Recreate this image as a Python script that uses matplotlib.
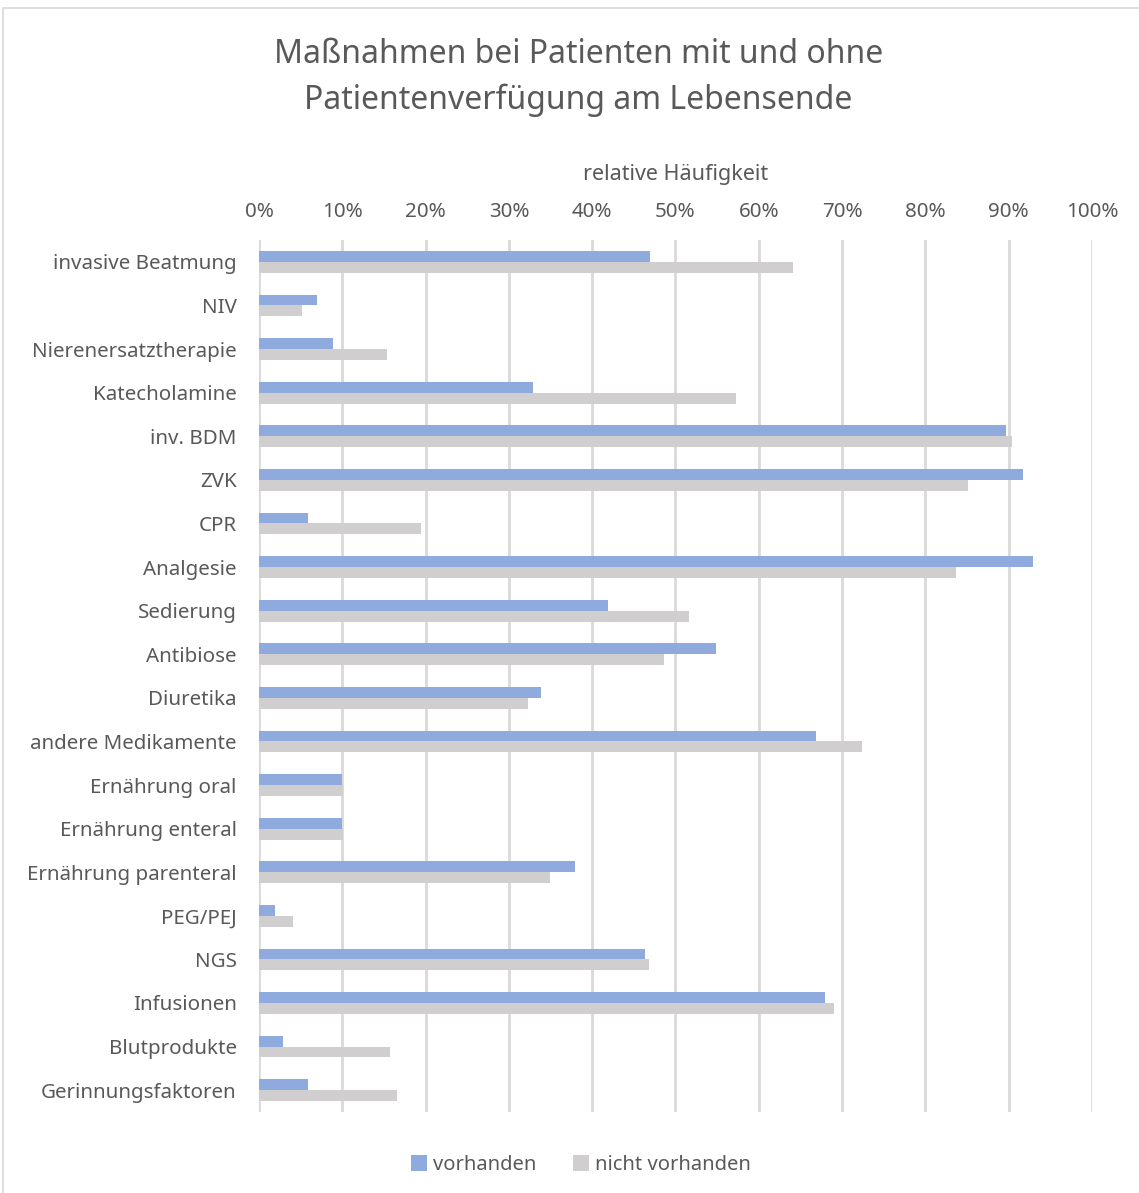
import numpy as np
import matplotlib.pyplot as plt
from matplotlib.patches import Rectangle

plt.rcParams['font.family'] = ['Noto Sans', 'DejaVu Sans']

kategorien = ['invasive Beatmung', 'NIV', 'Nierenersatztherapie', 'Katecholamine',
              'inv. BDM', 'ZVK', 'CPR', 'Analgesie', 'Sedierung', 'Antibiose',
              'Diuretika', 'andere Medikamente', 'Ernährung oral', 'Ernährung enteral',
              'Ernährung parenteral', 'PEG/PEJ', 'NGS', 'Infusionen', 'Blutprodukte',
              'Gerinnungsfaktoren']
vorhanden = [46.9, 7.0, 8.9, 32.9, 89.7, 91.7, 5.9, 92.9, 41.9, 54.9,
             33.9, 66.9, 10.0, 10.0, 37.9, 1.9, 46.3, 67.9, 2.9, 5.9]
nicht_vorhanden = [64.1, 5.2, 15.4, 57.3, 90.4, 85.1, 19.4, 83.7, 51.6, 48.6,
                   32.3, 72.4, 10.1, 10.1, 34.9, 4.1, 46.8, 69.0, 15.7, 16.6]
ticks = [0, 10, 20, 30, 40, 50, 60, 70, 80, 90, 100]

text_col = '#595959'
blau = '#8FAADC'
grau = '#D0CECE'

fig = plt.figure(figsize=(11.39, 11.93), dpi=100)
fig.patches.append(Rectangle((0.003, -0.01), 1.2, 1.003, transform=fig.transFigure,
                             fill=False, edgecolor='#D9D9D9', linewidth=1.2))

ax = fig.add_axes([0.2274, 0.0679, 0.7313, 0.7309])
y = np.arange(len(kategorien))
h = 0.25
ax.barh(y - h / 2, vorhanden, height=h, color=blau, label='vorhanden', zorder=3)
ax.barh(y + h / 2, nicht_vorhanden, height=h, color=grau, label='nicht vorhanden', zorder=3)

ax.set_xlim(0, 100)
ax.set_ylim(len(kategorien) - 0.5, -0.5)
ax.set_yticks(y)
ax.set_yticklabels(kategorien, fontsize=14.8, color=text_col)
ax.set_xticks(ticks)
ax.set_xticklabels([f'{t}%' for t in ticks], fontsize=14.8, color=text_col)
ax.xaxis.tick_top()
ax.xaxis.set_label_position('top')
ax.set_xlabel('relative Häufigkeit', fontsize=15.5, color=text_col, labelpad=16)
ax.tick_params(axis='both', length=0)
ax.tick_params(axis='x', pad=13)
ax.tick_params(axis='y', pad=16)
for s in ax.spines.values():
    s.set_visible(False)
ax.grid(axis='x', color='#D9D9D9', linewidth=2, zorder=0)

fig.suptitle('Maßnahmen bei Patienten mit und ohne\nPatientenverfügung am Lebensende',
             fontsize=23, color=text_col, x=0.508, y=0.968, linespacing=1.5)

fig.legend(loc='lower center', bbox_to_anchor=(0.51, 0.0), ncol=2, frameon=False,
           fontsize=14.5, labelcolor=text_col, handlelength=0.8, handleheight=0.8,
           handletextpad=0.3, columnspacing=1.8)

fig.savefig('out.png', dpi=100, facecolor='white')
